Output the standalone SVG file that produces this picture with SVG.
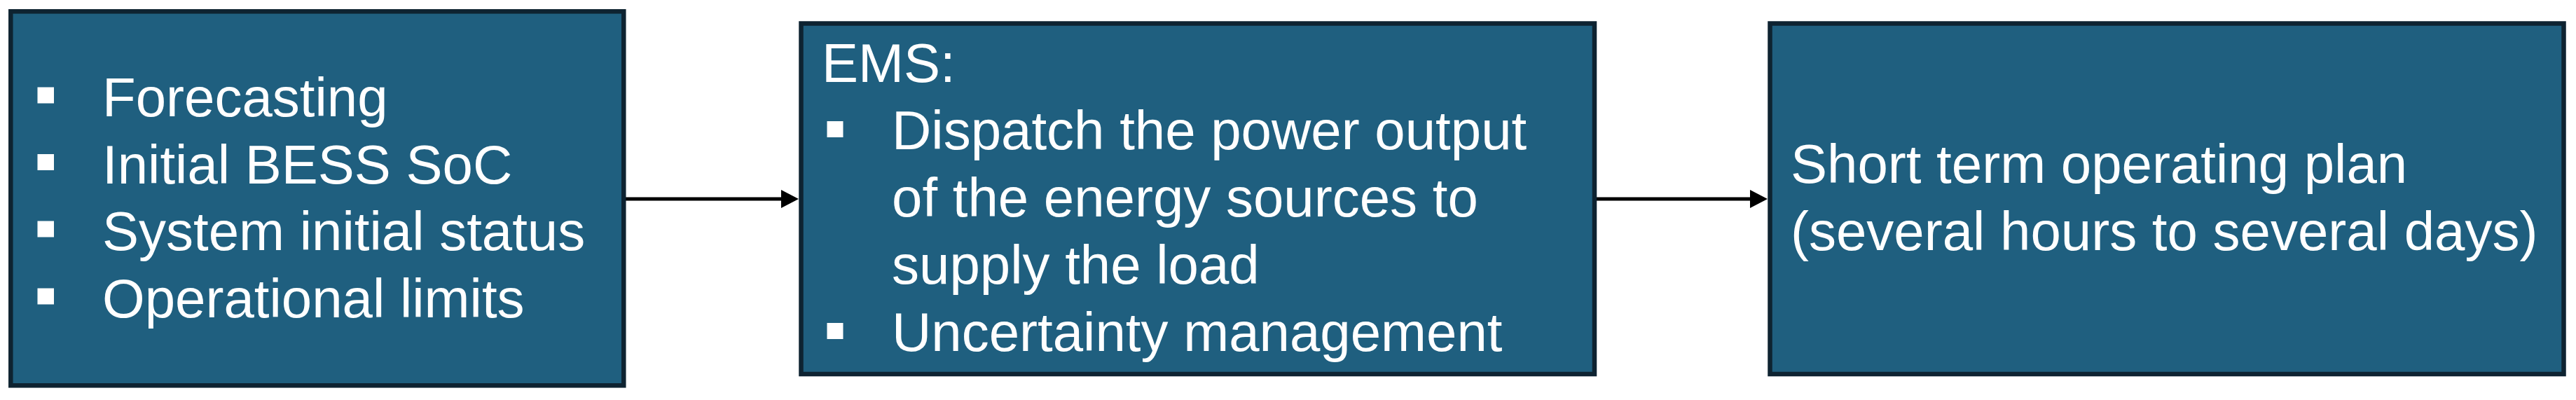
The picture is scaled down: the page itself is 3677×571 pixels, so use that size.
<svg xmlns="http://www.w3.org/2000/svg" width="3677" height="571" viewBox="0 0 3677 571">
  <style>
    .box { fill: #1F5F7F; stroke: #0E2331; stroke-width: 6.5; }
    .txt { font-family: "Liberation Sans", Arial, sans-serif; font-size: 78px; fill: #FFFFFF; }
    .bullet { fill: #FFFFFF; }
    .conn { stroke: #000000; stroke-width: 5; fill: none; }
  </style>
  <defs>
    <marker id="arrow" markerUnits="userSpaceOnUse" markerWidth="26" markerHeight="26" refX="5" refY="13" orient="auto">
      <path d="M0,0 L25,13 L0,26 Z" fill="#000000"/>
    </marker>
  </defs>
  <rect width="3677" height="571" fill="#FFFFFF"/>

  <g id="connectors">
    <line class="conn" x1="893" y1="284" x2="1120" y2="284" marker-end="url(#arrow)"/>
    <line class="conn" x1="2279" y1="284" x2="2503" y2="284" marker-end="url(#arrow)"/>
  </g>

  <g id="node-inputs">
    <rect class="box" x="15.3" y="16.3" width="875" height="534"/>
    <rect class="bullet" x="53.5" y="124.5" width="23.5" height="23"/>
    <rect class="bullet" x="53.5" y="220" width="23.5" height="23"/>
    <rect class="bullet" x="53.5" y="315.5" width="23.5" height="23"/>
    <rect class="bullet" x="53.5" y="411.5" width="23.5" height="23"/>
    <text class="txt" x="146" y="166">Forecasting</text>
    <text class="txt" x="146" y="261.5">Initial BESS SoC</text>
    <text class="txt" x="146" y="357">System initial status</text>
    <text class="txt" x="146" y="453">Operational limits</text>
  </g>

  <g id="node-ems">
    <rect class="box" x="1143.5" y="33.5" width="1132.5" height="500.5"/>
    <text class="txt" x="1173" y="117">EMS:</text>
    <rect class="bullet" x="1180.5" y="173" width="23" height="23"/>
    <text class="txt" x="1273" y="213">Dispatch the power output</text>
    <text class="txt" x="1273" y="309">of the energy sources to</text>
    <text class="txt" x="1273" y="405">supply the load</text>
    <rect class="bullet" x="1180.5" y="461" width="23" height="23"/>
    <text class="txt" x="1273" y="501">Uncertainty management</text>
  </g>

  <g id="node-plan">
    <rect class="box" x="2526.5" y="33.5" width="1133" height="500.5"/>
    <text class="txt" x="2556" y="260.5">Short term operating plan</text>
    <text class="txt" x="2556" y="357">(several hours to several days)</text>
  </g>
</svg>
